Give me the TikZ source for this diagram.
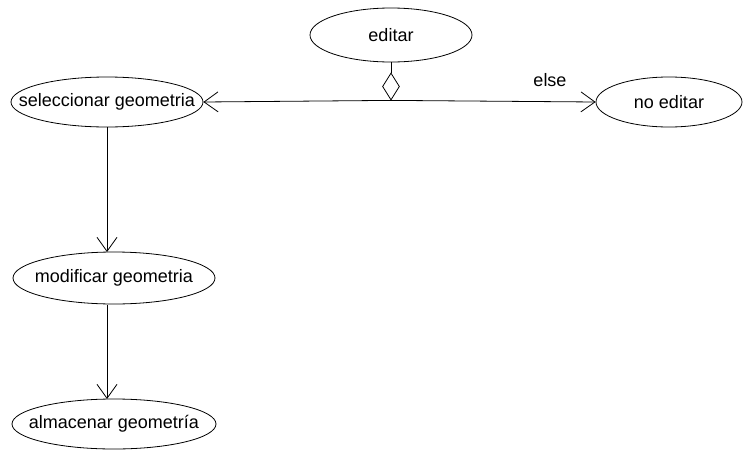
\documentclass[tikz,border=0pt]{standalone}
\usepackage{fontspec}
\setmainfont{Liberation Sans}
\usetikzlibrary{shapes.geometric,arrows.meta}
\newcommand{\uctext}[1]{\makebox[0pt]{#1}}
\begin{document}
\begin{tikzpicture}[x=1pt,y=-1pt,
  label text/.style={font=\fontsize{18}{21}\selectfont},
  usecase/.style={ellipse,draw,line width=0.8pt,inner sep=0pt,label text},
  flow/.style={draw,line width=0.8pt,-{Straight Barb[length=14pt,width=20pt,line width=0.8pt]}},
  choice/.style={diamond,draw,line width=0.8pt,inner sep=0pt,minimum width=17pt,minimum height=27pt}]
\useasboundingbox (0,0) rectangle (747,450);
\node[usecase,minimum width=162pt,minimum height=54pt] (editar) at (391,35) {\uctext{editar}};
\node[usecase,minimum width=192pt,minimum height=50pt] (sel) at (107,102) {\uctext{seleccionar geometria}};
\node[usecase,minimum width=146pt,minimum height=50pt] (no) at (669,102) {\uctext{no editar}};
\node[usecase,minimum width=202pt,minimum height=52pt] (mod) at (114,278) {\uctext{modificar geometria}};
\node[usecase,minimum width=204pt,minimum height=50pt] (alm) at (114,424) {\uctext{almacenar geometría}};
\node[choice] (d) at (391,86.5) {};
\draw[line width=0.8pt] (editar.south) -- (d.north);
\draw[flow] (d.south) -- (sel.east);
\draw[flow] (d.south) -- (no.west);
\node[label text] (else) at (550,80) {else};
\coordinate (selb) at (107,127);
\coordinate (modt) at (107,252);
\coordinate (modb) at (107,305);
\coordinate (almt) at (107,399);
\draw[flow] (selb) -- (modt);
\draw[flow] (modb) -- (almt);
\end{tikzpicture}
\end{document}
